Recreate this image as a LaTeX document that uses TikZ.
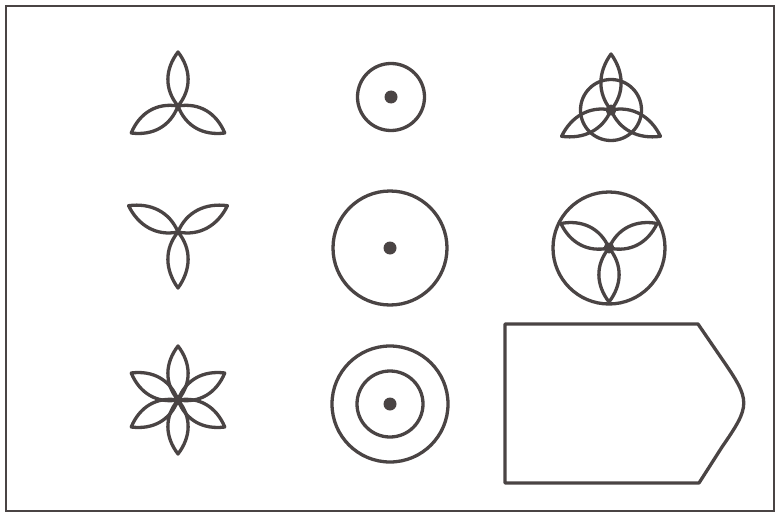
\documentclass[tikz,border=0pt]{standalone}
\definecolor{ink}{HTML}{4A4444}
\tikzset{
  ln/.style={draw=ink, line width=3.3pt, line join=round},
  petal/.pic={\draw[ln] (0,0) .. controls (17,14) and (38,13) .. (56,0) .. controls (38,-13) and (17,-14) .. (0,0) -- cycle;},
  spetal/.pic={\draw[ln] (0,0) .. controls (17,14) and (37,13) .. (54,0) .. controls (37,-13) and (17,-14) .. (0,0) -- cycle;},
  dot/.style={circle, fill=ink, inner sep=0pt, minimum size=13pt},
}
\begin{document}
\begin{tikzpicture}[x=1pt, y=-1pt]
\useasboundingbox (0,0) rectangle (782,519);
\fill[white] (0,0) rectangle (782,519);
\draw[draw=ink, line width=2.6pt] (6,6) rectangle (774,511);

% row 1
\coordinate (t1) at (178,106);
\foreach \a in {90,210,330} \pic[rotate=\a] at (t1) {spetal};
\node[dot] (c1) at (391,97) {};
\draw[ln] (c1) circle (33.5);
\coordinate (t3) at (611,110);
\foreach \a in {90,208,332} \pic[rotate=\a] at (t3) {petal};
\draw[ln] (t3) circle (30.5);
\node[dot, minimum size=11pt] at (t3) {};

% row 2
\coordinate (t2) at (178,232);
\foreach \a in {28,152,270} \pic[rotate=\a] at (t2) {petal};
\node[dot] (c2) at (390,248) {};
\draw[ln] (c2) circle (57);
\coordinate (t4) at (609,248);
\foreach \a in {27,153,270} \pic[rotate=\a] at (t4) {spetal};
\draw[ln] (t4) circle (56);
\node[dot, minimum size=11pt] at (t4) {};

% row 3
\coordinate (f) at (178,400);
\foreach \a in {30,90,150,210,270,330} \pic[rotate=\a] at (f) {spetal};
\node[dot, minimum size=9pt] at (f) {};
\node[dot] (c3) at (390,404) {};
\draw[ln] (c3) circle (58);
\draw[ln] (c3) circle (33);

\draw[ln] (505,324) -- (698,324) -- (722,359) .. controls (751,401) and (751,405) .. (722,447) -- (699,483) -- (505,483) -- cycle;
\end{tikzpicture}
\end{document}
